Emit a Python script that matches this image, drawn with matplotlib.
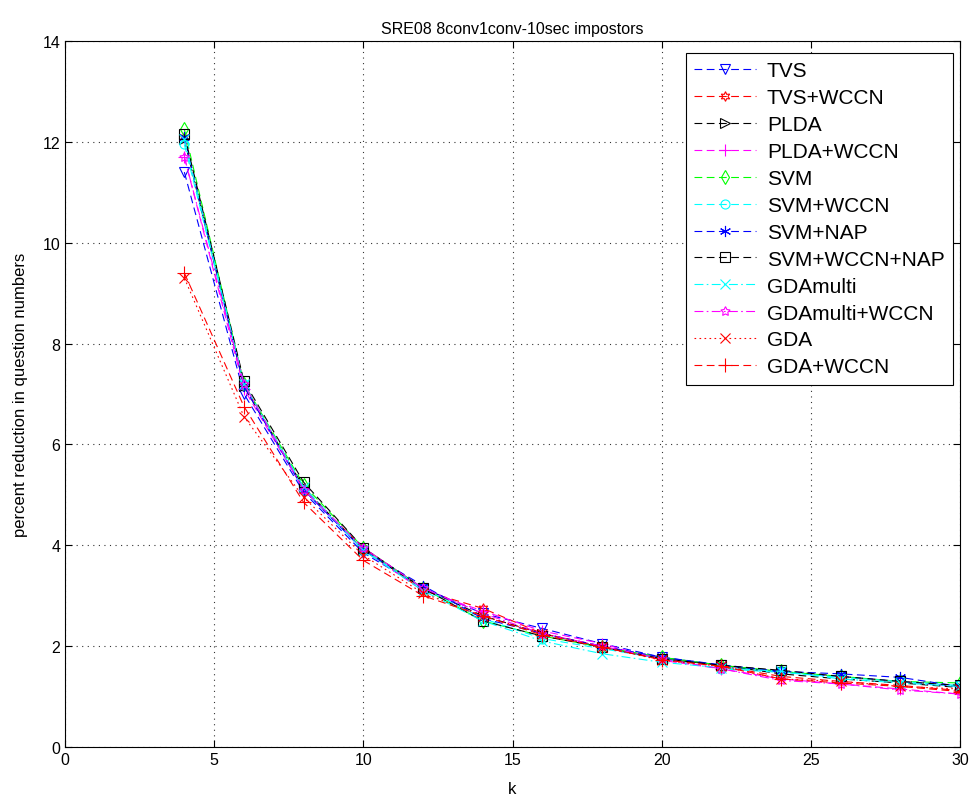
import matplotlib
matplotlib.use("Agg")
import matplotlib.pyplot as plt

plt.rcParams['font.family'] = ['Liberation Sans', 'DejaVu Sans']

k = [4, 6, 8, 10, 12, 14, 16, 18, 20, 22, 24, 26, 28, 30]

tvs = [11.4, 7.0, 5.05, 3.85, 3.15, 2.65, 2.35, 2.05, 1.78, 1.62, 1.48, 1.40, 1.30, 1.20]
tvs_wccn = [12.1, 7.2, 5.1, 3.95, 3.1, 2.75, 2.25, 2.0, 1.75, 1.6, 1.40, 1.30, 1.22, 1.12]
plda = [12.05, 7.15, 5.15, 3.9, 3.15, 2.6, 2.25, 1.98, 1.75, 1.62, 1.45, 1.35, 1.27, 1.18]
plda_wccn = [11.7, 7.1, 5.1, 3.9, 3.1, 2.7, 2.3, 2.05, 1.72, 1.55, 1.35, 1.25, 1.15, 1.05]
svm = [12.25, 7.2, 5.2, 3.95, 3.15, 2.5, 2.2, 1.98, 1.78, 1.62, 1.5, 1.4, 1.3, 1.27]
svm_wccn = [11.95, 7.2, 5.1, 3.9, 3.15, 2.55, 2.15, 1.95, 1.75, 1.55, 1.48, 1.38, 1.3, 1.22]
svm_nap = [12.1, 7.15, 5.1, 3.9, 3.2, 2.55, 2.25, 2.0, 1.78, 1.63, 1.5, 1.45, 1.38, 1.2]
svm_wccn_nap = [12.15, 7.25, 5.25, 3.95, 3.15, 2.5, 2.2, 1.98, 1.75, 1.62, 1.52, 1.4, 1.3, 1.22]
gdamulti = [12.05, 7.2, 5.15, 3.9, 3.1, 2.5, 2.1, 1.85, 1.68, 1.57, 1.5, 1.35, 1.27, 1.2]
gdamulti_wccn = [11.7, 7.2, 5.1, 3.95, 3.15, 2.65, 2.25, 2.0, 1.75, 1.55, 1.32, 1.25, 1.13, 1.05]
gda = [9.3, 6.55, 4.95, 3.8, 3.05, 2.6, 2.25, 1.98, 1.72, 1.6, 1.35, 1.3, 1.2, 1.15]
gda_wccn = [9.4, 6.75, 4.85, 3.7, 3.0, 2.6, 2.22, 1.98, 1.73, 1.6, 1.35, 1.27, 1.2, 1.1]

labels = ['TVS', 'TVS+WCCN', 'PLDA', 'PLDA+WCCN', 'SVM', 'SVM+WCCN', 'SVM+NAP',
          'SVM+WCCN+NAP', 'GDAmulti', 'GDAmulti+WCCN', 'GDA', 'GDA+WCCN']
series = [tvs, tvs_wccn, plda, plda_wccn, svm, svm_wccn, svm_nap, svm_wccn_nap,
          gdamulti, gdamulti_wccn, gda, gda_wccn]

dash = (0, (7, 4))
dashdot = (0, (8, 3, 1.5, 3))
dot = (0, (1.5, 3))
styles = [
    ('#0000ff', dash, 'v', 7),
    ('#ff0000', dash, (6, 1, 0), 7),
    ('#000000', dash, '>', 6.5),
    ('#ff00ff', dash, '+', 8),
    ('#00ff00', dash, 'd', 7.5),
    ('#00ffff', dash, 'o', 6.5),
    ('#0000ff', dash, (6, 2, 0), 8),
    ('#000000', dash, 's', 6.5),
    ('#00ffff', dashdot, 'x', 7),
    ('#ff00ff', dashdot, (5, 1, 0), 7),
    ('#ff0000', dot, 'x', 7),
    ('#ff0000', dash, '+', 10),
]

fig = plt.figure(figsize=(9.79, 8.03), dpi=100)
ax = fig.add_axes([0.0664, 0.0685, 0.9142, 0.8792])

for y, lab, (c, ls, m, ms) in zip(series, labels, styles):
    ax.plot(k, y, color=c, linestyle=ls, linewidth=0.8, marker=m, markersize=ms,
            markerfacecolor='none', markeredgecolor=c, markeredgewidth=0.8, label=lab)

ax.set_xlim(0, 30)
ax.set_ylim(0, 14)
ax.set_xticks([0, 5, 10, 15, 20, 25, 30])
ax.set_yticks([0, 2, 4, 6, 8, 10, 12, 14])
ax.grid(True, linestyle=(0, (1, 4)), color='black', linewidth=0.8, alpha=0.8)
ax.tick_params(direction='in', top=True, right=True, labelsize=11.5, length=5)
for s in ax.spines.values():
    s.set_linewidth(0.8)
ax.set_title('SRE08 8conv1conv-10sec impostors', fontsize=11.5)
ax.set_xlabel('k', fontsize=12, labelpad=10)
ax.set_ylabel('percent reduction in question numbers', fontsize=12, labelpad=10)

leg = ax.legend(loc='upper right', bbox_to_anchor=(0.992, 0.983), fontsize=15,
                fancybox=False, edgecolor='black', framealpha=1, handlelength=3,
                labelspacing=0.38, borderpad=0.4, handletextpad=0.5, borderaxespad=0)
leg.get_frame().set_linewidth(0.8)

fig.savefig('out.png', dpi=100)
